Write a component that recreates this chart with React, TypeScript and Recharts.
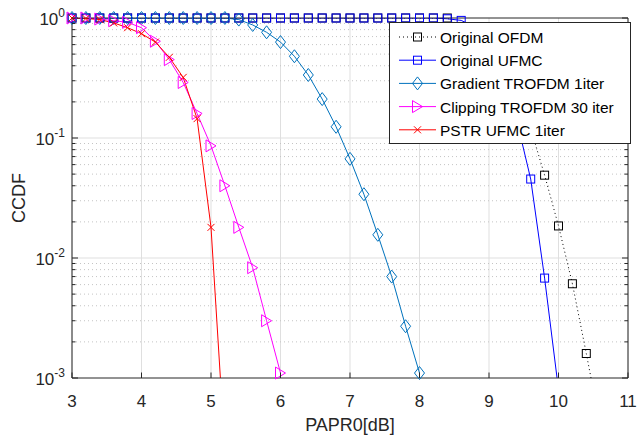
import React from 'react';
import { LineChart, Line, XAxis, YAxis, CartesianGrid, ReferenceLine, Legend } from 'recharts';

// PAPR0 values [dB] for each curve (markers every 0.2 dB)
const paprOfdm = [3.0, 3.2, 3.4, 3.6, 3.8, 4.0, 4.2, 4.4, 4.6, 4.8, 5.0, 5.2, 5.4, 5.6, 5.8, 6.0, 6.2, 6.4, 6.6, 6.8, 7.0, 7.2, 7.4, 7.6, 7.8, 8.0, 8.2, 8.4, 8.6, 8.8, 9.0, 9.2, 9.4, 9.6, 9.8, 10.0, 10.2, 10.4, 10.6];
const ccdfOfdm = [1, 1, 1, 1, 1, 1, 1, 1, 1, 1, 1, 1, 1, 1, 1, 1, 1, 1, 1, 1, 1, 1, 1, 1, 1, 1, 1, 1, 0.85, 0.75, 0.6, 0.45, 0.28, 0.12, 0.049, 0.0185, 0.0061, 0.0016, 0.0004];

const paprUfmc = [3.0, 3.2, 3.4, 3.6, 3.8, 4.0, 4.2, 4.4, 4.6, 4.8, 5.0, 5.2, 5.4, 5.6, 5.8, 6.0, 6.2, 6.4, 6.6, 6.8, 7.0, 7.2, 7.4, 7.6, 7.8, 8.0, 8.2, 8.4, 8.6, 8.8, 9.0, 9.2, 9.4, 9.6, 9.8, 10.0];
const ccdfUfmc = [1, 1, 1, 1, 1, 1, 1, 1, 1, 1, 1, 1, 1, 1, 1, 1, 1, 1, 1, 1, 1, 1, 1, 1, 1, 1, 1, 0.985, 0.955, 0.84, 0.65, 0.38, 0.14, 0.0455, 0.0068, 0.0008];

const paprGradient = [3.0, 3.2, 3.4, 3.6, 3.8, 4.0, 4.2, 4.4, 4.6, 4.8, 5.0, 5.2, 5.4, 5.6, 5.8, 6.0, 6.2, 6.4, 6.6, 6.8, 7.0, 7.2, 7.4, 7.6, 7.8, 8.0];
const ccdfGradient = [1, 1, 1, 1, 1, 1, 1, 1, 1, 1, 1, 1, 0.97, 0.875, 0.76, 0.63, 0.48, 0.335, 0.211, 0.124, 0.067, 0.034, 0.0156, 0.007, 0.0027, 0.0011];

const paprClipping = [3.0, 3.2, 3.4, 3.6, 3.8, 4.0, 4.2, 4.4, 4.6, 4.8, 5.0, 5.2, 5.4, 5.6, 5.8, 6.0];
const ccdfClipping = [1, 1, 0.98, 0.95, 0.92, 0.83, 0.64, 0.45, 0.29, 0.16, 0.086, 0.04, 0.018, 0.0083, 0.003, 0.0011];

const paprPstr = [3.0, 3.2, 3.4, 3.6, 3.8, 4.0, 4.2, 4.4, 4.6, 4.8, 5.0, 5.2];
const ccdfPstr = [1, 0.99, 0.97, 0.91, 0.83, 0.74, 0.63, 0.47, 0.32, 0.145, 0.018, 0.00025];

const xTicks = [3, 4, 5, 6, 7, 8, 9, 10, 11];
const yMajorTicks = [0.001, 0.01, 0.1, 1];
const yMinorTicks = [0.002, 0.003, 0.004, 0.005, 0.006, 0.007, 0.008, 0.009, 0.02, 0.03, 0.04, 0.05, 0.06, 0.07, 0.08, 0.09, 0.2, 0.3, 0.4, 0.5, 0.6, 0.7, 0.8, 0.9];

const AXIS = '#262626';
const FONT = '"Liberation Sans", Arial, Helvetica, sans-serif';
const Y_MIN = 0.001;

type MarkerKind = 'square' | 'diamond' | 'triangle' | 'cross';

const series = [
  { name: 'Original OFDM', x: paprOfdm, y: ccdfOfdm, color: '#000000', dash: '1 3', marker: 'square' as MarkerKind },
  { name: 'Original UFMC', x: paprUfmc, y: ccdfUfmc, color: '#0000ff', dash: undefined, marker: 'square' as MarkerKind },
  { name: 'Gradient TROFDM 1iter', x: paprGradient, y: ccdfGradient, color: '#0072bd', dash: undefined, marker: 'diamond' as MarkerKind },
  { name: 'Clipping TROFDM 30 iter', x: paprClipping, y: ccdfClipping, color: '#ff00ff', dash: undefined, marker: 'triangle' as MarkerKind },
  { name: 'PSTR UFMC 1iter', x: paprPstr, y: ccdfPstr, color: '#ff0000', dash: undefined, marker: 'cross' as MarkerKind },
];

function markerShape(kind: MarkerKind, cx: number, cy: number, color: string, key?: string) {
  const common = { fill: 'none', stroke: color, strokeWidth: 1 };
  if (kind === 'square') return <rect key={key} x={cx - 4} y={cy - 4} width={8} height={8} {...common} />;
  if (kind === 'diamond') return <path key={key} d={`M${cx},${cy - 6.5}L${cx + 5},${cy}L${cx},${cy + 6.5}L${cx - 5},${cy}Z`} {...common} />;
  if (kind === 'triangle') return <path key={key} d={`M${cx - 5},${cy - 6}L${cx + 5},${cy}L${cx - 5},${cy + 6}Z`} {...common} />;
  return <path key={key} d={`M${cx - 3.5},${cy - 3.5}L${cx + 3.5},${cy + 3.5}M${cx + 3.5},${cy - 3.5}L${cx - 3.5},${cy + 3.5}`} {...common} />;
}

const isMajor = (v: number) => Math.abs(Math.log10(v) - Math.round(Math.log10(v))) < 1e-6;

function LeftTick(props: any) {
  const { x, y, payload } = props;
  const v = payload.value;
  const major = isMajor(v);
  return (
    <g>
      <line x1={x} x2={x + (major ? 6 : 3.5)} y1={y} y2={y} stroke={AXIS} />
      {major && (
        <text x={x - 7} y={y + 7} textAnchor="end" fill={AXIS} fontSize={17} fontFamily={FONT}>
          10<tspan dy={-8} fontSize={12}>{Math.round(Math.log10(v))}</tspan>
        </text>
      )}
    </g>
  );
}

function RightTick(props: any) {
  const { x, y, payload } = props;
  const major = isMajor(payload.value);
  return <line x1={x} x2={x - (major ? 6 : 3.5)} y1={y} y2={y} stroke={AXIS} />;
}

function BottomTick(props: any) {
  const { x, y, payload } = props;
  return (
    <g>
      <line x1={x} x2={x} y1={y} y2={y - 5.5} stroke={AXIS} />
      <text x={x} y={y + 29} textAnchor="middle" fill={AXIS} fontSize={17} fontFamily={FONT}>
        {payload.value}
      </text>
    </g>
  );
}

function TopTick(props: any) {
  const { x, y } = props;
  return <line x1={x} x2={x} y1={y} y2={y + 5.5} stroke={AXIS} />;
}

function LegendBox() {
  return (
    <svg width={242} height={122} style={{ display: 'block' }}>
      <rect x={0.5} y={0.5} width={241} height={121} fill="#fff" stroke={AXIS} />
      {series.map((s, i) => {
        const cy = 15 + i * 23.2;
        return (
          <g key={s.name}>
            <line x1={10} x2={47} y1={cy} y2={cy} stroke={s.color} strokeDasharray={s.dash} />
            {markerShape(s.marker, 28.5, cy, s.color)}
            <text x={51} y={cy + 6} fontSize={15.5} fontFamily={FONT} fill="#000">
              {s.name}
            </text>
          </g>
        );
      })}
    </svg>
  );
}

export default function App() {
  return (
    <div style={{ position: 'absolute', left: 0, top: 0, width: 637, height: 437, background: '#fff' }}>
      <LineChart width={637} height={437} margin={{ top: 17, right: 8, bottom: 0, left: 12 }}>
        <CartesianGrid xAxisId="b" yAxisId="main" horizontal={false} stroke="#dfdfdf" />
        {yMinorTicks.map((v) => (
          <ReferenceLine key={`mn${v}`} xAxisId="b" yAxisId="main" y={v} stroke="#c4c4c4" strokeDasharray="1 3" />
        ))}
        {yMajorTicks.slice(1, 3).map((v) => (
          <ReferenceLine key={`mj${v}`} xAxisId="b" yAxisId="main" y={v} stroke="#dfdfdf" />
        ))}
        <XAxis
          xAxisId="b"
          type="number"
          dataKey="x"
          domain={[3, 11]}
          ticks={xTicks}
          interval={0}
          height={59}
          tickSize={0}
          tickMargin={0}
          tickLine={false}
          tick={<BottomTick />}
          axisLine={{ stroke: AXIS }}
          label={({ viewBox }: any) => (
            <text x={viewBox.x + viewBox.width / 2} y={viewBox.y + 53} textAnchor="middle" fill={AXIS} fontSize={18} fontFamily={FONT}>
              PAPR0[dB]
            </text>
          )}
        />
        <XAxis
          xAxisId="t"
          orientation="top"
          type="number"
          dataKey="x"
          domain={[3, 11]}
          ticks={xTicks}
          interval={0}
          height={1}
          tickSize={0}
          tickMargin={0}
          tickLine={false}
          tick={<TopTick />}
          axisLine={{ stroke: AXIS }}
        />
        <YAxis
          yAxisId="main"
          scale="log"
          type="number"
          domain={[Y_MIN, 1]}
          allowDataOverflow
          ticks={[...yMajorTicks, ...yMinorTicks]}
          interval={0}
          width={60}
          tickSize={0}
          tickMargin={0}
          tickLine={false}
          tick={<LeftTick />}
          axisLine={{ stroke: AXIS }}
          label={({ viewBox }: any) => (
            <text
              transform={`translate(${viewBox.x + 12.5},${viewBox.y + viewBox.height / 2}) rotate(-90)`}
              textAnchor="middle"
              fill={AXIS}
              fontSize={18}
              fontFamily={FONT}
            >
              CCDF
            </text>
          )}
        />
        <YAxis
          yAxisId="right"
          orientation="right"
          scale="log"
          type="number"
          domain={[Y_MIN, 1]}
          allowDataOverflow
          ticks={[...yMajorTicks, ...yMinorTicks]}
          interval={0}
          width={1}
          tickSize={0}
          tickMargin={0}
          tickLine={false}
          tick={<RightTick />}
          axisLine={{ stroke: AXIS }}
        />
        <YAxis yAxisId="mk" hide scale="log" type="number" domain={[Y_MIN, 1]} />
        {series.flatMap((s) => {
          const rows = s.x.map((x, i) => ({ x, y: s.y[i] }));
          const visible = rows.filter((r) => r.y >= Y_MIN);
          return [
            <Line
              key={`${s.name}-line`}
              data={rows}
              dataKey="y"
              xAxisId="b"
              yAxisId="main"
              type="linear"
              stroke={s.color}
              strokeWidth={1}
              strokeDasharray={s.dash}
              dot={false}
              activeDot={false}
              legendType="none"
              isAnimationActive={false}
            />,
            <Line
              key={`${s.name}-mk`}
              data={visible}
              dataKey="y"
              xAxisId="b"
              yAxisId="mk"
              type="linear"
              stroke="none"
              dot={(p: any) => markerShape(s.marker, p.cx, p.cy, s.color, `${s.name}-${p.index}`)}
              activeDot={false}
              legendType="none"
              isAnimationActive={false}
            />,
          ];
        })}
        <Legend
          layout="vertical"
          align="center"
          verticalAlign="middle"
          content={() => <LegendBox />}
          wrapperStyle={{ left: 389, top: 22, width: 242, height: 122 }}
        />
      </LineChart>
    </div>
  );
}
